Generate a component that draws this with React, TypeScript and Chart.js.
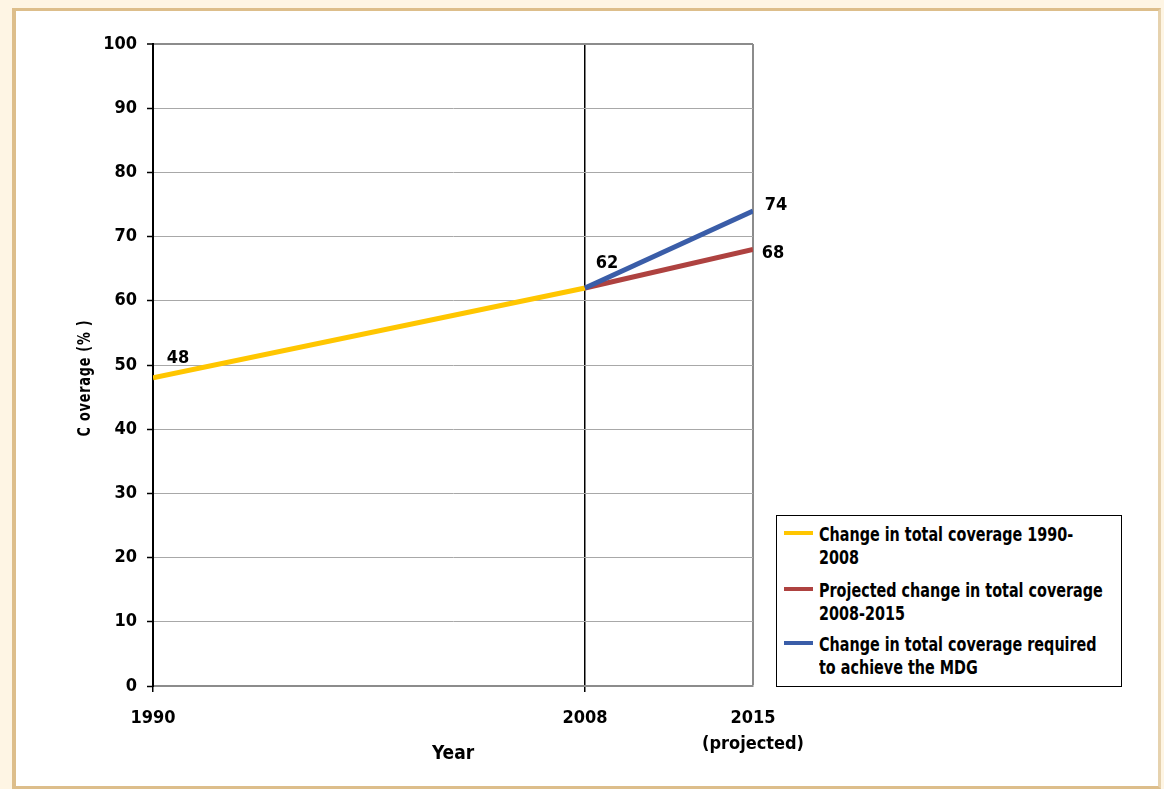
import React, { useEffect, useRef } from 'react';
import { Chart, registerables } from 'chart.js';

Chart.register(...registerables);

// ---------- data ----------
const years = [1990, 2008, 2015];
const xTickLabels: (string | string[])[] = ['1990', '2008', ['2015', '(projected)']];
const totalYears = [1990, 2008];
const totalCoverage = [48, 62];
const projectedYears = [2008, 2015];
const projectedCoverage = [62, 68];
const requiredYears = [2008, 2015];
const requiredCoverage = [62, 74];
const seriesNames = [
  'Change in total coverage 1990-2008',
  'Projected change in total coverage 2008-2015',
  'Change in total coverage required to achieve the MDG',
];
const legendLines = [
  ['Change in total coverage 1990-', '2008'],
  ['Projected change in total coverage', '2008-2015'],
  ['Change in total coverage required', 'to achieve the MDG'],
];
const seriesColors = ['#FFC600', '#AE4240', '#3A5DA8'];
const yTitle = 'C overage (% )';
const xTitle = 'Year';

const FONT = "'DejaVu Sans Condensed', 'Liberation Sans Narrow', sans-serif";

const labelPlugin = {
  id: 'valueLabels',
  afterDatasetsDraw(chart: any) {
    const ctx = chart.ctx;
    ctx.save();
    ctx.font = `bold 18px ${FONT}`;
    ctx.fillStyle = '#000';
    ctx.textAlign = 'center';
    ctx.textBaseline = 'middle';
    // [datasetIndex, pointIndex, dx, dy]
    const spec = [
      [0, 0, 25, -20],
      [0, 1, 22, -25],
      [2, 1, 23, -6],
      [1, 1, 20, 4],
    ];
    for (const [di, pi, dx, dy] of spec) {
      const el = chart.getDatasetMeta(di).data[pi];
      const v = chart.data.datasets[di].data[pi].y;
      ctx.fillText(String(v), el.x + dx, el.y + dy);
    }
    // y-axis title
    ctx.translate(85, 378);
    ctx.rotate(-Math.PI / 2);
    ctx.font = `bold 18px ${FONT}`;
    (ctx as any).letterSpacing = '1px';
    const w = ctx.measureText(yTitle).width;
    ctx.scale(Math.min(1, 117 / w), 1);
    ctx.fillText(yTitle, 0, 0);
    ctx.restore();
  },
};

export default function App() {
  const ref = useRef<HTMLCanvasElement>(null);

  useEffect(() => {
    if (!ref.current) return;
    const font = { family: FONT, size: 18, weight: 'bold' as const, lineHeight: 1.45 };
    const chart = new Chart(ref.current, {
      type: 'line',
      data: {
        datasets: [
          {
            label: seriesNames[0],
            data: totalYears.map((x, i) => ({ x, y: totalCoverage[i] })),
            borderColor: seriesColors[0],
            borderWidth: 5,
            pointRadius: 0,
            order: 2,
          },
          {
            label: seriesNames[1],
            data: projectedYears.map((x, i) => ({ x, y: projectedCoverage[i] })),
            borderColor: seriesColors[1],
            borderWidth: 5,
            pointRadius: 0,
            order: 1,
          },
          {
            label: seriesNames[2],
            data: requiredYears.map((x, i) => ({ x, y: requiredCoverage[i] })),
            borderColor: seriesColors[2],
            borderWidth: 5,
            pointRadius: 0,
            order: 0,
          },
        ],
      },
      options: {
        animation: false,
        responsive: false,
        devicePixelRatio: 1,
        layout: { padding: { left: 50, top: 44, right: 411, bottom: 0 } },
        plugins: { legend: { display: false }, tooltip: { enabled: false } },
        scales: {
          x: {
            type: 'linear',
            min: 1990,
            max: 2015,
            afterBuildTicks: (s: any) => {
              s.ticks = years.map((v) => ({ value: v }));
            },
            afterFit: (s: any) => {
              s.height = 103;
            },
            ticks: {
              font,
              color: '#000',
              padding: 13,
              autoSkip: false,
              maxRotation: 0,
              callback: (v: any) => xTickLabels[years.indexOf(Number(v))] ?? '',
            },
            grid: {
              color: (c: any) =>
                c.tick?.value === 2008 ? '#000' : c.tick?.value === 2015 ? '#8C8C8C' : 'rgba(0,0,0,0)',
              lineWidth: (c: any) => (c.tick?.value === 2015 ? 2 : 1.5),
              tickColor: (c: any) => (c.tick?.value === 2015 ? 'rgba(0,0,0,0)' : '#000'),
              tickLength: 6,
              tickWidth: 1.5,
            },
            border: { color: '#8C8C8C', width: 2 },
            title: {
              display: true,
              text: xTitle,
              color: '#000',
              font: { family: FONT, size: 19, weight: 'bold', lineHeight: 1.2 },
              padding: { top: 0, bottom: 24 },
            },
          },
          y: {
            min: 0,
            max: 100,
            afterFit: (s: any) => {
              s.width = 103;
            },
            ticks: { stepSize: 10, font: { ...font, lineHeight: 1.2 }, color: '#000', padding: 10 },
            grid: {
              color: (c: any) =>
                c.tick?.value === 100 ? '#8C8C8C' : c.tick?.value === 0 ? 'rgba(0,0,0,0)' : '#A8A8A8',
              lineWidth: (c: any) => (c.tick?.value === 100 ? 2 : 1),
              tickColor: '#000',
              tickLength: 6,
              tickWidth: 1.5,
            },
            border: { color: '#000', width: 2 },
            title: { display: false },
          },
        },
      },
      plugins: [labelPlugin],
    } as any);
    return () => chart.destroy();
  }, []);

  const swatchCenters = [533, 589, 643];
  return (
    <div style={{ position: 'absolute', left: 0, top: 0, width: 1164, height: 789, background: '#FEF5E4', overflow: 'hidden' }}>
      <div
        style={{
          position: 'absolute',
          left: 12,
          top: 8,
          width: 1149,
          height: 781,
          boxSizing: 'border-box',
          borderLeft: '4px solid #DDBE8B',
          borderTop: '3px solid #DDBE8B',
          borderRight: '3px solid #E6D2AE',
          borderBottom: '3px solid #DDBE8B',
          background: '#fff',
        }}
      />
      <canvas ref={ref} width={1164} height={789} style={{ position: 'absolute', left: 0, top: 0 }} />
      <div
        style={{
          position: 'absolute',
          left: 776,
          top: 515,
          width: 346,
          height: 172,
          boxSizing: 'border-box',
          border: '1.5px solid #000',
          background: '#fff',
          fontFamily: FONT,
          fontWeight: 'bold',
          fontSize: 19,
          color: '#000',
        }}
      >
        {legendLines.map((lines, i) => (
          <React.Fragment key={i}>
            <div
              style={{
                position: 'absolute',
                left: 7,
                top: swatchCenters[i] - 515 - 2 - 1.5,
                width: 29,
                height: 4,
                background: seriesColors[i],
              }}
            />
            <div
              style={{
                position: 'absolute',
                left: 42,
                top: swatchCenters[i] - 515 - 11.75 + 0.5,
                lineHeight: '23.5px',
                whiteSpace: 'nowrap',
                transform: 'scaleX(0.84)',
                transformOrigin: 'left top',
              }}
            >
              {lines.map((l, j) => (
                <div key={j}>{l}</div>
              ))}
            </div>
          </React.Fragment>
        ))}
      </div>
    </div>
  );
}
